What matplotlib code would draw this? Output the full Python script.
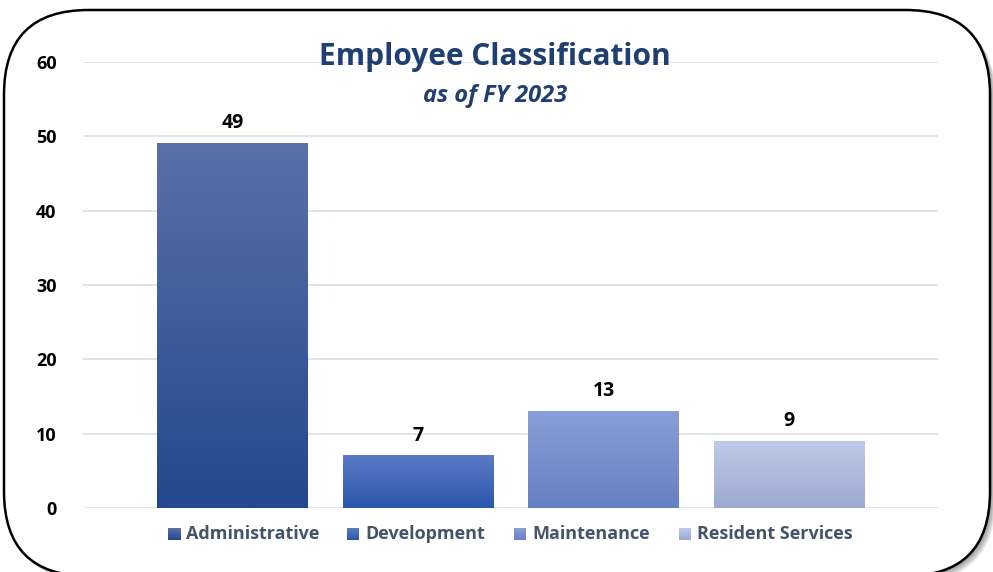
import numpy as np
import matplotlib
matplotlib.use("Agg")
import matplotlib.pyplot as plt
from matplotlib.patches import FancyBboxPatch
from matplotlib.colors import LinearSegmentedColormap

categories = ["Administrative", "Development", "Maintenance", "Resident Services"]
values = [49, 7, 13, 9]
yticks = [0, 10, 20, 30, 40, 50, 60]
top_colors = ["#5B70A9", "#5A7BC4", "#8A9FD8", "#BFC9E7"]
bottom_colors = ["#23488E", "#2A57AD", "#6680C4", "#9DA9D1"]

plt.rcParams['font.family'] = ['Open Sans', 'DejaVu Sans']

W, H = 993, 572
fig = plt.figure(figsize=(W/100, H/100), dpi=100)
fig.patch.set_facecolor("white")

# rounded border with soft shadow
bx0, by_top, bx1, by_bot = 4, 10, 990, 576
for k in range(6, 0, -1):
    sh = FancyBboxPatch(((bx0 + k) / W, (H - by_bot - k) / H),
                        (bx1 - bx0) / W, (by_bot - by_top) / H,
                        boxstyle="round,pad=0,rounding_size=0.085",
                        transform=fig.transFigure, facecolor="#333333",
                        edgecolor="none", alpha=0.10, mutation_aspect=W/H, zorder=0)
    fig.patches.append(sh)
border = FancyBboxPatch((bx0 / W, (H - by_bot) / H), (bx1 - bx0) / W, (by_bot - by_top) / H,
                        boxstyle="round,pad=0,rounding_size=0.085",
                        transform=fig.transFigure, facecolor="white",
                        edgecolor="black", linewidth=1.8, mutation_aspect=W/H, zorder=1)
fig.patches.append(border)

ax = fig.add_axes([83/W, (H-508)/H, (938-83)/W, (508-62)/H])
ax.set_facecolor("none")
ax.set_zorder(2)
x = np.arange(len(categories))
bars = ax.bar(x, values, width=0.81, color="none", edgecolor="none", zorder=3)

for i, (b, v) in enumerate(zip(bars, values)):
    cmap = LinearSegmentedColormap.from_list("g", [bottom_colors[i], top_colors[i]])
    grad = np.linspace(0, 1, 256).reshape(-1, 1)
    x0 = b.get_x(); w = b.get_width()
    ax.imshow(grad, cmap=cmap, origin="lower", aspect="auto",
              extent=[x0, x0 + w, 0, v], zorder=3)
    ax.text(b.get_x() + w/2, v + 1.4, str(v), ha="center", va="bottom",
            fontsize=14, fontweight="bold", color="black", zorder=4)

ax.set_xlim(-0.806, 3.803)
ax.set_ylim(0, 60)
ax.set_yticks(yticks)
ax.set_yticklabels([str(t) for t in yticks], fontsize=13, fontweight="bold")
ax.tick_params(axis="y", length=0, pad=19)
ax.set_xticks([])
ax.grid(axis="y", color="#D9DEE6", linewidth=1.2, zorder=0)
ax.set_axisbelow(True)
for s in ax.spines.values():
    s.set_visible(False)

# title
fig.text(495/W, 1 - 57/H, "Employee Classification", ha="center", va="center",
         fontsize=21.5, fontweight="bold", color="#1F3E72", zorder=5)
fig.text(495/W, 1 - 96/H, "as of FY 2023", ha="center", va="center",
         fontsize=17, fontweight="bold", style="italic", color="#1F3E72", zorder=5)

# legend
leg_x = [168, 347, 514, 679]
for i, name in enumerate(categories):
    xs = leg_x[i]
    sq = fig.add_axes([xs/W, 1 - 540/H, 12/W, 12/H])
    sq.set_zorder(5)
    cmap = LinearSegmentedColormap.from_list("g", [bottom_colors[i], top_colors[i]])
    sq.imshow(np.linspace(0, 1, 64).reshape(-1, 1), cmap=cmap, origin="lower",
              aspect="auto", extent=[0, 1, 0, 1])
    sq.set_axis_off()
    fig.text((xs + 18)/W, 1 - 534/H, name, ha="left", va="center",
             fontsize=13, fontweight="bold", color="#44546A", zorder=5)

fig.savefig("out.png", dpi=100)
